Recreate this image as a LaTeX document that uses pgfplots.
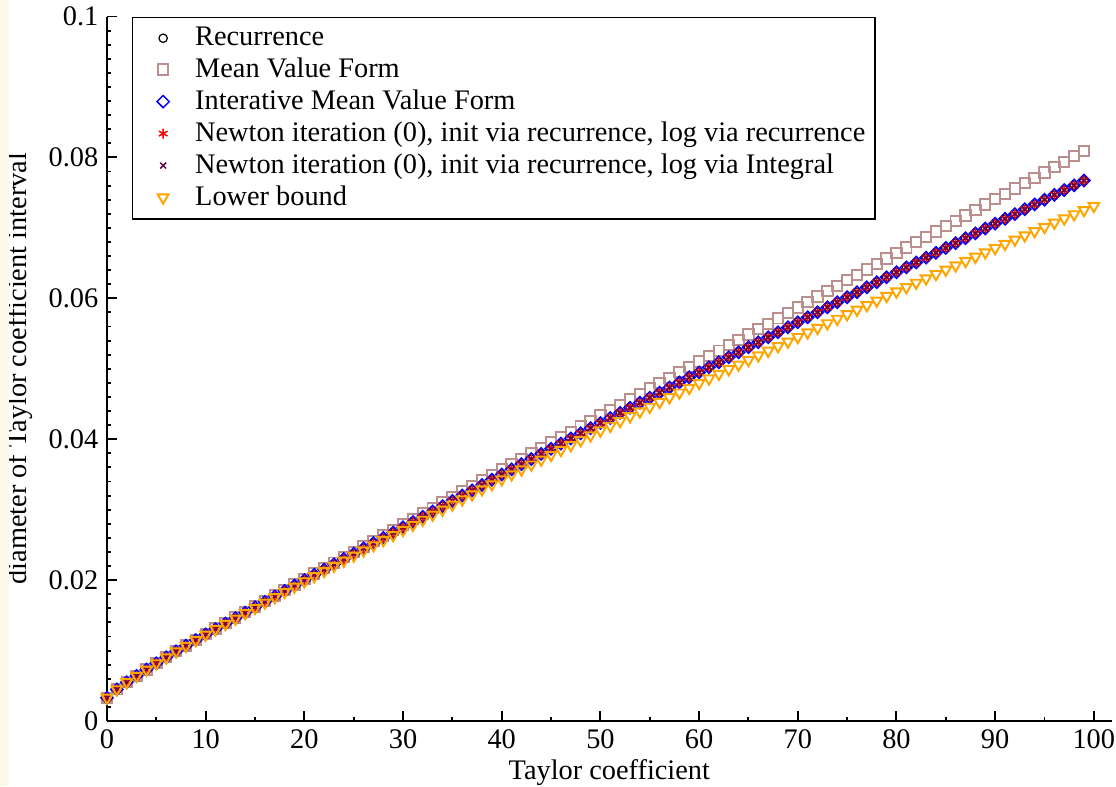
\documentclass[border=0pt]{standalone}
\usepackage{fontspec}
\setmainfont{Liberation Serif}
\usepackage{pgfplots}
\usepackage{pgfplotstable}
\pgfplotsset{compat=1.18}

\definecolor{grbrown}{RGB}{188,143,143}
\definecolor{grmaroon}{RGB}{103,7,72}
\definecolor{grorange}{RGB}{255,165,0}
\definecolor{cream}{RGB}{253,248,231}

% x, b = recurrence / newton / iterative MVF (all coincide), m = mean value form, lb = lower bound
\pgfplotstableread{
x b m lb
0 0.00330 0.00330 0.00330
1 0.00450 0.00450 0.00450
2 0.00550 0.00550 0.00550
3 0.00640 0.00640 0.00640
4 0.00730 0.00731 0.00729
5 0.00820 0.00821 0.00819
6 0.00905 0.00907 0.00903
7 0.00990 0.00992 0.00988
8 0.01070 0.01073 0.01067
9 0.01150 0.01153 0.01147
10 0.01230 0.01234 0.01226
11 0.01307 0.01312 0.01302
12 0.01384 0.01390 0.01378
13 0.01461 0.01468 0.01454
14 0.01538 0.01546 0.01530
15 0.01615 0.01625 0.01605
16 0.01692 0.01703 0.01681
17 0.01769 0.01781 0.01757
18 0.01846 0.01860 0.01832
19 0.01923 0.01938 0.01908
20 0.02000 0.02017 0.01983
21 0.02075 0.02094 0.02056
22 0.02150 0.02171 0.02129
23 0.02225 0.02248 0.02202
24 0.02300 0.02325 0.02275
25 0.02375 0.02402 0.02348
26 0.02450 0.02479 0.02421
27 0.02525 0.02556 0.02494
28 0.02600 0.02634 0.02566
29 0.02675 0.02711 0.02639
30 0.02750 0.02789 0.02711
31 0.02825 0.02866 0.02784
32 0.02900 0.02944 0.02856
33 0.02975 0.03022 0.02928
34 0.03050 0.03100 0.03000
35 0.03125 0.03178 0.03072
36 0.03200 0.03256 0.03144
37 0.03275 0.03334 0.03216
38 0.03350 0.03412 0.03288
39 0.03425 0.03490 0.03360
40 0.03500 0.03569 0.03431
41 0.03573 0.03645 0.03501
42 0.03646 0.03722 0.03570
43 0.03719 0.03798 0.03640
44 0.03792 0.03875 0.03709
45 0.03865 0.03952 0.03778
46 0.03938 0.04029 0.03847
47 0.04011 0.04106 0.03916
48 0.04084 0.04183 0.03985
49 0.04157 0.04260 0.04054
50 0.04230 0.04337 0.04123
51 0.04302 0.04414 0.04190
52 0.04374 0.04490 0.04258
53 0.04446 0.04566 0.04326
54 0.04518 0.04643 0.04393
55 0.04590 0.04720 0.04460
56 0.04662 0.04796 0.04528
57 0.04734 0.04873 0.04595
58 0.04806 0.04950 0.04662
59 0.04878 0.05027 0.04729
60 0.04950 0.05104 0.04796
61 0.05021 0.05180 0.04862
62 0.05092 0.05257 0.04927
63 0.05163 0.05333 0.04993
64 0.05234 0.05410 0.05058
65 0.05305 0.05486 0.05124
66 0.05376 0.05563 0.05189
67 0.05447 0.05639 0.05255
68 0.05518 0.05716 0.05320
69 0.05589 0.05793 0.05385
70 0.05660 0.05870 0.05450
71 0.05731 0.05947 0.05515
72 0.05802 0.06024 0.05580
73 0.05873 0.06101 0.05645
74 0.05944 0.06179 0.05709
75 0.06015 0.06256 0.05774
76 0.06086 0.06334 0.05838
77 0.06157 0.06411 0.05903
78 0.06228 0.06489 0.05967
79 0.06299 0.06566 0.06032
80 0.06370 0.06644 0.06096
81 0.06439 0.06720 0.06158
82 0.06508 0.06796 0.06220
83 0.06577 0.06872 0.06282
84 0.06646 0.06948 0.06344
85 0.06715 0.07025 0.06405
86 0.06784 0.07101 0.06467
87 0.06853 0.07177 0.06529
88 0.06922 0.07254 0.06590
89 0.06991 0.07330 0.06652
90 0.07060 0.07407 0.06713
91 0.07128 0.07483 0.06773
92 0.07196 0.07559 0.06833
93 0.07264 0.07635 0.06893
94 0.07332 0.07711 0.06953
95 0.07400 0.07787 0.07013
96 0.07468 0.07863 0.07073
97 0.07536 0.07939 0.07133
98 0.07604 0.08016 0.07192
99 0.07672 0.08092 0.07252
100 0.07740 0.08169 0.07311
}\data

\begin{document}
\begin{tikzpicture}
\begin{axis}[
  font=\fontsize{11.5}{13.5}\selectfont,
  scale only axis, width=407.8pt, height=286pt,
  xmin=0, xmax=101.8, ymin=0, ymax=0.1,
  axis lines=left, axis line style={-, line width=0.8pt},
  tick style={black, line width=0.8pt}, tick align=inside,
  major tick length=4pt, minor tick length=1.8pt,
  xtick={0,10,20,30,40,50,60,70,80,90,100},
  xticklabels={0,10,20,30,40,50,60,70,80,90,100},
  minor x tick num=1,
  ytick={0,0.02,0.04,0.06,0.08,0.1},
  yticklabels={0,0.02,0.04,0.06,0.08,0.1},
  minor y tick num=9,
  xlabel={Taylor coefficient},
  ylabel={diameter of Taylor coefficient interval},
  xlabel style={at={(axis description cs:0.5,-0.0738)}, anchor=center},
  ylabel style={at={(axis description cs:-0.0866,0.5)}, anchor=center},
  legend style={at={(rel axis cs:0,1)}, anchor=north west, xshift=10pt,
    draw=black, line width=0.6pt, row sep=-0.5pt, inner xsep=2pt},
  legend cell align=left,
  legend image code/.code={\path[draw=none] (-10.5pt,0) -- (11pt,0); \draw plot coordinates {(0pt,0pt)};},
  clip=false,
]
\addplot[only marks, mark=o, mark size=1.7pt, black, line width=0.5pt, restrict x to domain=0:99] table[x=x,y=b]{\data};
\addlegendentry{Recurrence}
\addplot[only marks, mark=square, mark size=2.1pt, grbrown, line width=0.8pt, restrict x to domain=0:99] table[x=x,y=m]{\data};
\addlegendentry{Mean Value Form}
\addplot[only marks, mark=square, mark options={rotate=45}, mark size=1.75pt, blue, line width=0.6pt, restrict x to domain=0:99] table[x=x,y=b]{\data};
\addlegendentry{Interative Mean Value Form}
\addplot[only marks, mark=asterisk, mark size=2pt, red, line width=0.6pt, restrict x to domain=0:99] table[x=x,y=b]{\data};
\addlegendentry{Newton iteration (0), init via recurrence, log via recurrence}
\addplot[only marks, mark=x, mark size=1.7pt, grmaroon, line width=0.6pt, restrict x to domain=0:99] table[x=x,y=b]{\data};
\addlegendentry{Newton iteration (0), init via recurrence, log via Integral}
\addplot[only marks, mark=triangle, mark options={rotate=180}, mark size=2.5pt, grorange, line width=0.8pt] table[x=x,y=lb]{\data};
\addlegendentry{Lower bound}
\coordinate (o) at (axis cs:0,0);
\coordinate (tr) at (axis cs:100,0.1);
\end{axis}
\pgfresetboundingbox
\path[use as bounding box] ([xshift=-43.44pt, yshift=-26.39pt]o) rectangle ([xshift=9.0pt, yshift=6.7pt]tr);
\fill[cream] ([xshift=-43.44pt, yshift=-26.39pt]o) rectangle ([xshift=-39.8pt, yshift=6.7pt]o |- tr);
\end{tikzpicture}
\end{document}
